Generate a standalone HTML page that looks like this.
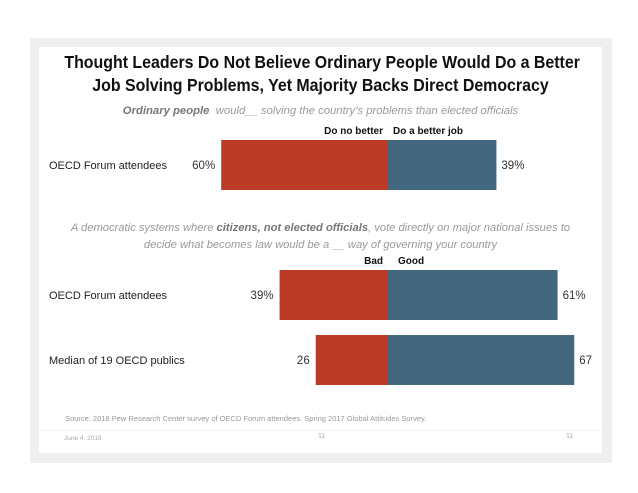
<!DOCTYPE html>
<html><head><meta charset="utf-8"><style>
body{margin:0;width:638px;height:493px;background:#fff;position:relative;overflow:hidden;font-family:"Liberation Sans",sans-serif}
.a{position:absolute;white-space:nowrap}
</style></head><body>
<div class="a" style="left:30px;top:38px;width:582px;height:425px;background:#efefef"></div>
<div class="a" style="left:39px;top:47px;width:563px;height:406px;background:#fff"></div>
<div class="a" style="left:39px;width:563px;top:51px;text-align:center;font-weight:bold;font-size:17.5px;line-height:23px;color:#111;transform:scaleX(0.91);transform-origin:center">Thought Leaders Do Not Believe Ordinary People Would Do a Better<br>Job Solving Problems, Yet Majority Backs Direct Democracy</div>
<div class="a" style="left:39px;width:563px;top:105px;text-align:center;font-style:italic;font-size:11.3px;color:#999"><b style="color:#777">Ordinary people</b>&nbsp; would__ solving the country’s problems than elected officials</div>
<div class="a" style="left:39px;width:563px;top:220px;text-align:center;font-style:italic;font-size:11.2px;line-height:17px;color:#999">A democratic systems where <b style="color:#777">citizens, not elected officials</b>, vote directly on major national issues to<br>decide what becomes law would be a __ way of governing your country</div>
<div class="a" style="left:65px;top:414px;font-size:7.5px;color:#999">Source: 2018 Pew Research Center survey of OECD Forum attendees. Spring 2017 Global Attitudes Survey.</div>
<div class="a" style="left:39px;width:563px;top:430px;height:1px;background:#f2f2f2"></div>
<div class="a" style="left:64px;top:435px;font-size:6.5px;color:#aaa">June 4, 2018</div>
<div class="a" style="left:318px;top:433px;font-size:7px;color:#aaa">11</div>
<div class="a" style="left:566px;top:433px;font-size:7px;color:#aaa">11</div>
<svg class="a" style="left:0;top:0" width="638" height="493" id="chart"></svg>
<script>
const labels=["OECD Forum attendees","OECD Forum attendees","Median of 19 OECD publics"];
const negVals=[60,39,26];
const posVals=[39,61,67];
const negText=["60%","39%","26"];
const posText=["39%","61%","67"];
const rowTops=[140,270,335];
const barH=50, center=388, scale=2.78;
const x=v=>center+v*scale;
const svg=document.getElementById('chart');
const NS='http://www.w3.org/2000/svg';
function mk(t,attrs,txt){const e=document.createElementNS(NS,t);for(const k in attrs)e.setAttribute(k,attrs[k]);if(txt!==undefined)e.textContent=txt;svg.appendChild(e);return e;}
labels.forEach((lab,i)=>{
  const y=rowTops[i];
  let e=mk('rect',{x:x(-negVals[i]),y:y,width:negVals[i]*scale,height:barH,fill:'#bb3a28'});
  
  
  e=mk('rect',{x:center,y:y,width:posVals[i]*scale,height:barH,fill:'#43677f'});
  
  
  e=mk('text',{x:49,y:y+barH/2+4,'font-size':11,fill:'#222'},lab);
  
  
  e=mk('text',{x:x(-negVals[i])-6,y:y+barH/2+4,'font-size':11.5,fill:'#333','text-anchor':'end'},negText[i]);
  
  
  e=mk('text',{x:x(posVals[i])+5,y:y+barH/2+4,'font-size':11.5,fill:'#333'},posText[i]);
  
  
});
const legends=[["Do no better",383,134,"end"],["Do a better job",393,134,"start"],["Bad",383,264,"end"],["Good",398,264,"start"]];
legends.forEach((l,i)=>{
  const e=mk('text',{x:l[1],y:l[2],'font-size':10,'font-weight':'bold',fill:'#111','text-anchor':l[3]},l[0]);
  
  
});
</script>
</body></html>
